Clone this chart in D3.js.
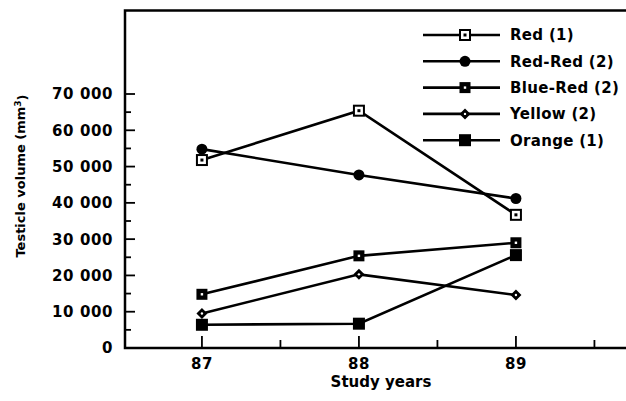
<!DOCTYPE html>
<html>
<head>
<meta charset="utf-8">
<script src="https://cdn.jsdelivr.net/npm/d3@7"></script>
<style>
  html, body { margin: 0; padding: 0; background: #fff; }
  svg text { font-family: "DejaVu Sans", sans-serif; font-weight: bold; fill: #000; }
</style>
</head>
<body>
<svg id="chart" width="626" height="401"></svg>
<script>
const years = [87, 88, 89];
const seriesNames = ["Red (1)", "Red-Red (2)", "Blue-Red (2)", "Yellow (2)", "Orange (1)"];
const markerTypes = ["openSquare", "circle", "dotSquare", "smallDiamond", "filledSquare"];
const redValues = [51800, 65400, 36700];
const redRedValues = [54800, 47700, 41200];
const blueRedValues = [14800, 25400, 29000];
const yellowValues = [9500, 20300, 14600];
const orangeValues = [6400, 6700, 25600];
const yTicks = [0, 10000, 20000, 30000, 40000, 50000, 60000, 70000];
const yMinorTicks = [5000, 15000, 25000, 35000, 45000, 55000, 65000];
const xMinorTicks = [87.5, 88.5, 89.5];

const allValues = [redValues, redRedValues, blueRedValues, yellowValues, orangeValues];

const svg = d3.select("#chart");
const x = d3.scaleLinear().domain([86.51, 90]).range([125, 125 + 3.49 * 157]);
const y = d3.scaleLinear().domain([0, 70000]).range([348, 94]);
const yTop = 93000;

const fmt = v => v === 0 ? "0" : d3.format(",")(v).replace(/,/g, " ");

// frame: top line, left axis, bottom axis
svg.append("path")
  .attr("d", `M${x.range()[1]},${y(yTop)} H${x(86.51)} V${y(0)} H${x.range()[1]}`)
  .attr("fill", "none").attr("stroke", "#000").attr("stroke-width", 2.5);

// y ticks (inward)
svg.append("g").selectAll("line.maj").data(yTicks).join("line")
  .attr("x1", x(86.51)).attr("x2", x(86.51) + 10)
  .attr("y1", d => y(d)).attr("y2", d => y(d))
  .attr("stroke", "#000").attr("stroke-width", 1.8);
svg.append("g").selectAll("line.min").data(yMinorTicks).join("line")
  .attr("x1", x(86.51)).attr("x2", x(86.51) + 6)
  .attr("y1", d => y(d)).attr("y2", d => y(d))
  .attr("stroke", "#000").attr("stroke-width", 1.8);
svg.append("g").selectAll("text").data(yTicks).join("text")
  .attr("x", 113).attr("y", d => y(d)).attr("dy", "0.36em")
  .attr("text-anchor", "end").style("font-size", "15px").style("letter-spacing", "0.6px")
  .text(fmt);

// x ticks (inward)
svg.append("g").selectAll("line").data(years).join("line")
  .attr("x1", d => x(d)).attr("x2", d => x(d))
  .attr("y1", y(0) + 1).attr("y2", y(0) - 12)
  .attr("stroke", "#000").attr("stroke-width", 1.8);
svg.append("g").selectAll("line").data(xMinorTicks).join("line")
  .attr("x1", d => x(d)).attr("x2", d => x(d))
  .attr("y1", y(0)).attr("y2", y(0) - 8)
  .attr("stroke", "#000").attr("stroke-width", 1.8);
svg.append("g").selectAll("text").data(years).join("text")
  .attr("x", d => x(d)).attr("y", 369)
  .attr("text-anchor", "middle").style("font-size", "15px").style("letter-spacing", "0.6px")
  .text(d => d);

// axis titles
svg.append("text").attr("x", 381).attr("y", 387).attr("text-anchor", "middle")
  .style("font-size", "15px").text("Study years");
const yl = svg.append("text").attr("transform", "translate(25,176) rotate(-90)")
  .attr("text-anchor", "middle").style("font-size", "13px");
yl.append("tspan").text("Testicle volume (mm");
yl.append("tspan").attr("dy", "-0.45em").style("font-size", "9px").text("3");
yl.append("tspan").attr("dy", "0.45em").text(")");

function drawMarker(g, type, cx, cy) {
  if (type === "openSquare") {
    g.append("rect").attr("x", cx - 5).attr("y", cy - 5).attr("width", 10).attr("height", 10)
      .attr("fill", "#fff").attr("stroke", "#000").attr("stroke-width", 2);
    g.append("rect").attr("x", cx - 1.5).attr("y", cy - 1.5).attr("width", 3).attr("height", 3).attr("fill", "#000");
  } else if (type === "circle") {
    g.append("circle").attr("cx", cx).attr("cy", cy).attr("r", 5.5).attr("fill", "#000");
  } else if (type === "dotSquare") {
    g.append("rect").attr("x", cx - 5.5).attr("y", cy - 5.5).attr("width", 11).attr("height", 11).attr("fill", "#000");
    g.append("rect").attr("x", cx - 1.2).attr("y", cy - 1.2).attr("width", 2.4).attr("height", 2.4).attr("fill", "#fff");
  } else if (type === "smallDiamond") {
    g.append("path").attr("d", `M${cx},${cy - 5.5}L${cx + 5.5},${cy}L${cx},${cy + 5.5}L${cx - 5.5},${cy}Z`).attr("fill", "#000");
    g.append("circle").attr("cx", cx).attr("cy", cy).attr("r", 1.2).attr("fill", "#fff");
  } else {
    g.append("rect").attr("x", cx - 6).attr("y", cy - 6).attr("width", 12).attr("height", 12).attr("fill", "#000");
  }
}

const line = d3.line().x((d, i) => x(years[i])).y(d => y(d));
allValues.forEach((vals, si) => {
  const g = svg.append("g");
  g.append("path").attr("d", line(vals)).attr("fill", "none")
    .attr("stroke", "#000").attr("stroke-width", 2.6);
  vals.forEach((v, i) => drawMarker(g, markerTypes[si], x(years[i]), y(v)));
});

// legend
seriesNames.forEach((name, i) => {
  const ly = 35 + i * 26.3;
  const g = svg.append("g");
  g.append("line").attr("x1", 423).attr("x2", 500).attr("y1", ly).attr("y2", ly)
    .attr("stroke", "#000").attr("stroke-width", 2.6);
  drawMarker(g, markerTypes[i], 465, ly);
  g.append("text").attr("x", 510).attr("y", ly).attr("dy", "0.36em")
    .style("font-size", "15px").style("letter-spacing", "0.3px").text(name);
});
</script>
</body>
</html>
